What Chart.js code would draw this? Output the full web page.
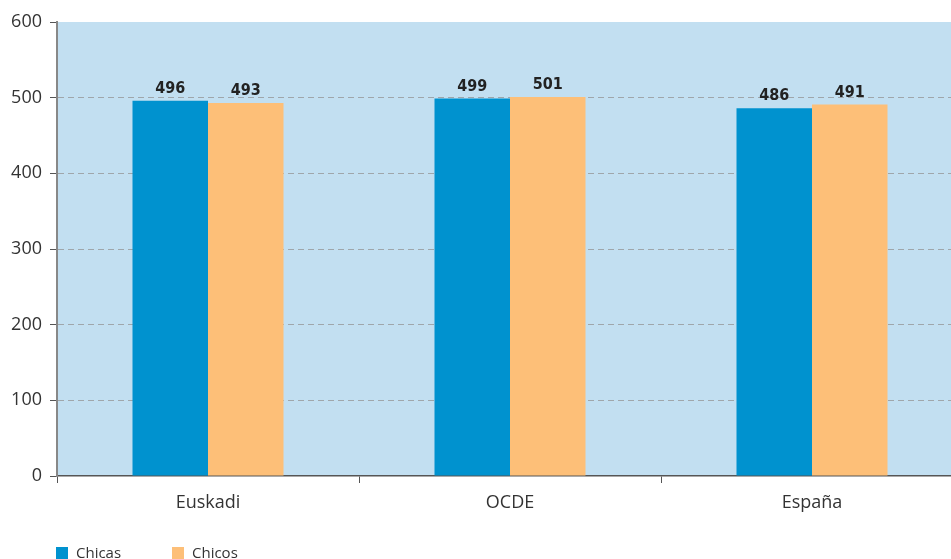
<!DOCTYPE html>
<html>
<head>
<meta charset="utf-8">
<script src="https://cdn.jsdelivr.net/npm/chart.js@4"></script>
<style>
  html, body { margin: 0; padding: 0; background: #fff; overflow: hidden; }
  #wrap { width: 963px; height: 559px; }
</style>
</head>
<body>
<div id="wrap"><canvas id="chart"></canvas></div>
<script>
var categories = ["Euskadi", "OCDE", "España"];
var chicas = [496, 499, 486];
var chicos = [493, 501, 491];
var yTicks = [0, 100, 200, 300, 400, 500, 600];

var FONT = "'Open Sans', 'Noto Sans', sans-serif";

// background of the plot area, value labels and the legend at the bottom
var extras = {
    id: 'extras',
    beforeDraw: function (chart) {
        var a = chart.chartArea;
        var ctx = chart.ctx;
        ctx.save();
        ctx.fillStyle = '#c2dff1';
        ctx.fillRect(a.left, a.top, a.right - a.left, a.bottom - a.top);
        ctx.restore();
    },
    afterDatasetsDraw: function (chart) {
        var ctx = chart.ctx;
        ctx.save();
        ctx.font = "bold 16px 'DejaVu Sans Condensed', " + FONT;
        ctx.fillStyle = '#222';
        ctx.textAlign = 'center';
        ctx.textBaseline = 'bottom';
        chart.data.datasets.forEach(function (ds, i) {
            chart.getDatasetMeta(i).data.forEach(function (bar, j) {
                ctx.fillText(ds.data[j], bar.x, bar.y - 4);
            });
        });
        ctx.restore();
    },
    afterDraw: function (chart) {
        var ctx = chart.ctx;
        var x = chart.chartArea.left - 1;
        var y = 553;
        ctx.save();
        ctx.font = "15px " + FONT;
        ctx.textBaseline = 'middle';
        chart.data.datasets.forEach(function (ds, i) {
            var lx = x + i * 116;
            ctx.fillStyle = ds.backgroundColor;
            ctx.fillRect(lx, y - 6, 12, 12);
            ctx.fillStyle = '#333';
            ctx.fillText(ds.label, lx + 20, y + 1);
        });
        ctx.restore();
    }
};

var chart = new Chart(document.getElementById('chart'), {
    type: 'bar',
    data: {
        labels: categories,
        datasets: [{
            label: 'Chicas',
            data: chicas,
            backgroundColor: '#0092cf'
        }, {
            label: 'Chicos',
            data: chicos,
            backgroundColor: '#fdbf78'
        }]
    },
    options: {
        responsive: true,
        maintainAspectRatio: false,
        animation: false,
        layout: { padding: { top: 22, right: 0, left: 0, bottom: 0 } },
        categoryPercentage: 0.5,
        barPercentage: 1,
        plugins: {
            legend: { display: false },
            tooltip: { enabled: false }
        },
        scales: {
            x: {
                afterFit: function (s) { s.height = 83; },
                border: { color: '#555', width: 1.5 },
                grid: {
                    offset: true,
                    drawOnChartArea: false,
                    tickLength: 7,
                    tickColor: '#555'
                },
                ticks: {
                    color: '#333',
                    padding: 9,
                    font: { family: FONT, size: 18 }
                }
            },
            y: {
                min: 0,
                max: 600,
                afterFit: function (s) { s.width = 57; },
                afterBuildTicks: function (s) {
                    s.ticks = yTicks.map(function (v) { return { value: v }; });
                },
                border: { color: '#888', width: 2, dash: [6, 4] },
                grid: {
                    color: function (c) {
                        return (c.tick && (c.tick.value === 0 || c.tick.value === 600)) ? 'rgba(0,0,0,0)' : '#9fa6ab';
                    },
                    lineWidth: 1,
                    tickLength: 7,
                    tickColor: '#555',
                    tickBorderDash: []
                },
                ticks: {
                    color: '#333',
                    padding: 8,
                    font: { family: FONT, size: 18 }
                }
            }
        }
    },
    plugins: [extras]
});
</script>
</body>
</html>
